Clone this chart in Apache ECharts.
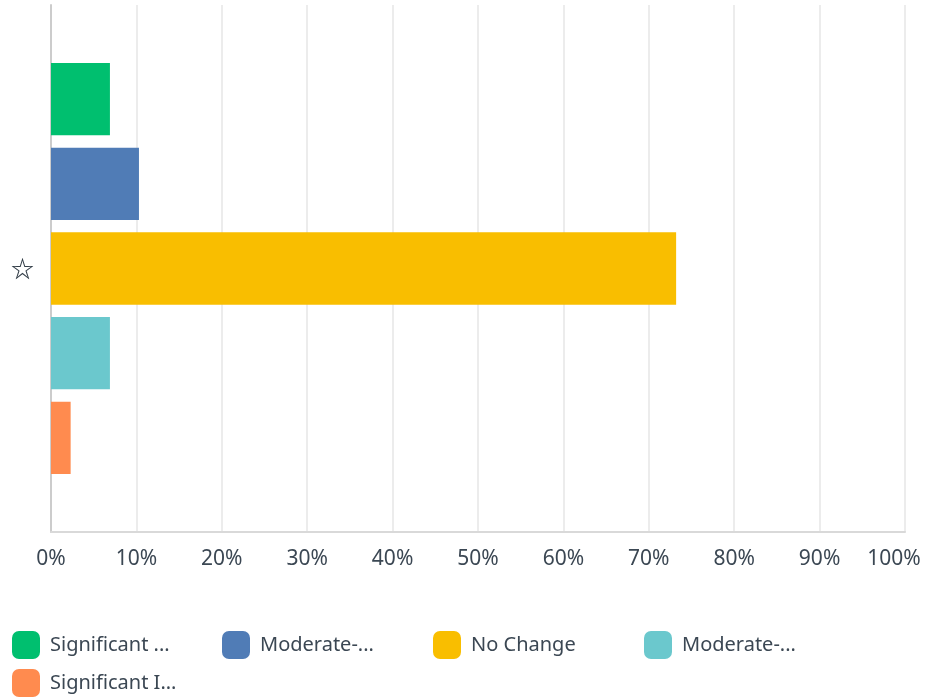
<!DOCTYPE html>
<html><head><meta charset="utf-8">
<script src="https://cdn.jsdelivr.net/npm/echarts@6/dist/echarts.min.js"></script>
<style>html,body{margin:0;padding:0;background:#fff;overflow:hidden}#c{width:925px;height:698px}</style>
</head><body><div id="c"></div>
<script>
const categories = ['☆'];
const seriesNames = ['Significant ...', 'Moderate-...', 'No Change', 'Moderate-...', 'Significant I...'];
const seriesKeys = ['Significant Decrease', 'Moderate-Decrease', 'No Change', 'Moderate-Increase', 'Significant Increase'];
const values = [6.9, 10.3, 73.2, 6.9, 2.3];
const colors = ['#00bf6f', '#507cb6', '#f9be00', '#6bc8cd', '#ff8b4f'];
const xTicks = [0, 10, 20, 30, 40, 50, 60, 70, 80, 90, 100];

const labelMap = {};
seriesKeys.forEach((k, i) => labelMap[k] = seriesNames[i]);
const font = '"Noto Sans", "Open Sans", sans-serif';

const legendPos = [[12, 631], [222, 631], [433, 631], [644, 631], [12, 669]];
const legends = seriesKeys.map((k, i) => ({
  left: legendPos[i][0], top: legendPos[i][1], orient: 'horizontal',
  itemWidth: 28, itemHeight: 28, itemGap: 10, icon: 'roundRect', padding: 0,
  data: [k],
  formatter: n => labelMap[n],
  textStyle: { color: '#3b4753', fontSize: 20, fontFamily: font, padding: [4, 0, 0, 5] }
}));

const chart = echarts.init(document.getElementById('c'));
chart.setOption({
  animation: false,
  grid: { left: 51, right: 20, top: 5, bottom: 166, containLabel: false, outerBoundsMode: 'none' },
  xAxis: {
    type: 'value', min: 0, max: 100, interval: 10,
    axisLine: { show: true, lineStyle: { color: '#d9d9d9', width: 2 } },
    axisTick: { show: false },
    splitLine: { show: true, lineStyle: { color: '#ececec', width: 2 } },
    axisLabel: {
      formatter: v => xTicks.includes(v) ? (v === 100 ? '{last|' + v + '%}' : v + '%') : '',
      color: '#3b4753', fontSize: 21, margin: 17, fontFamily: font,
      rich: { last: { color: '#3b4753', fontSize: 21, fontFamily: font, padding: [0, 22, 0, 0] } }
    }
  },
  yAxis: {
    type: 'category', data: categories, inverse: true,
    axisLine: { show: true, lineStyle: { color: '#cccccc', width: 2 } },
    axisTick: { show: false },
    axisLabel: { color: '#333e48', fontSize: 23, margin: 17, fontFamily: '"Noto Sans CJK SC", "DejaVu Sans"', fontWeight: 'bold', verticalAlign: 'middle', padding: [0, 0, 4, 0] }
  },
  legend: legends,
  series: seriesKeys.map((k, i) => ({
    name: k, type: 'bar', data: [values[i]],
    itemStyle: { color: colors[i] },
    barCategoryGap: '22%', barGap: '17%'
  }))
});
</script></body></html>
